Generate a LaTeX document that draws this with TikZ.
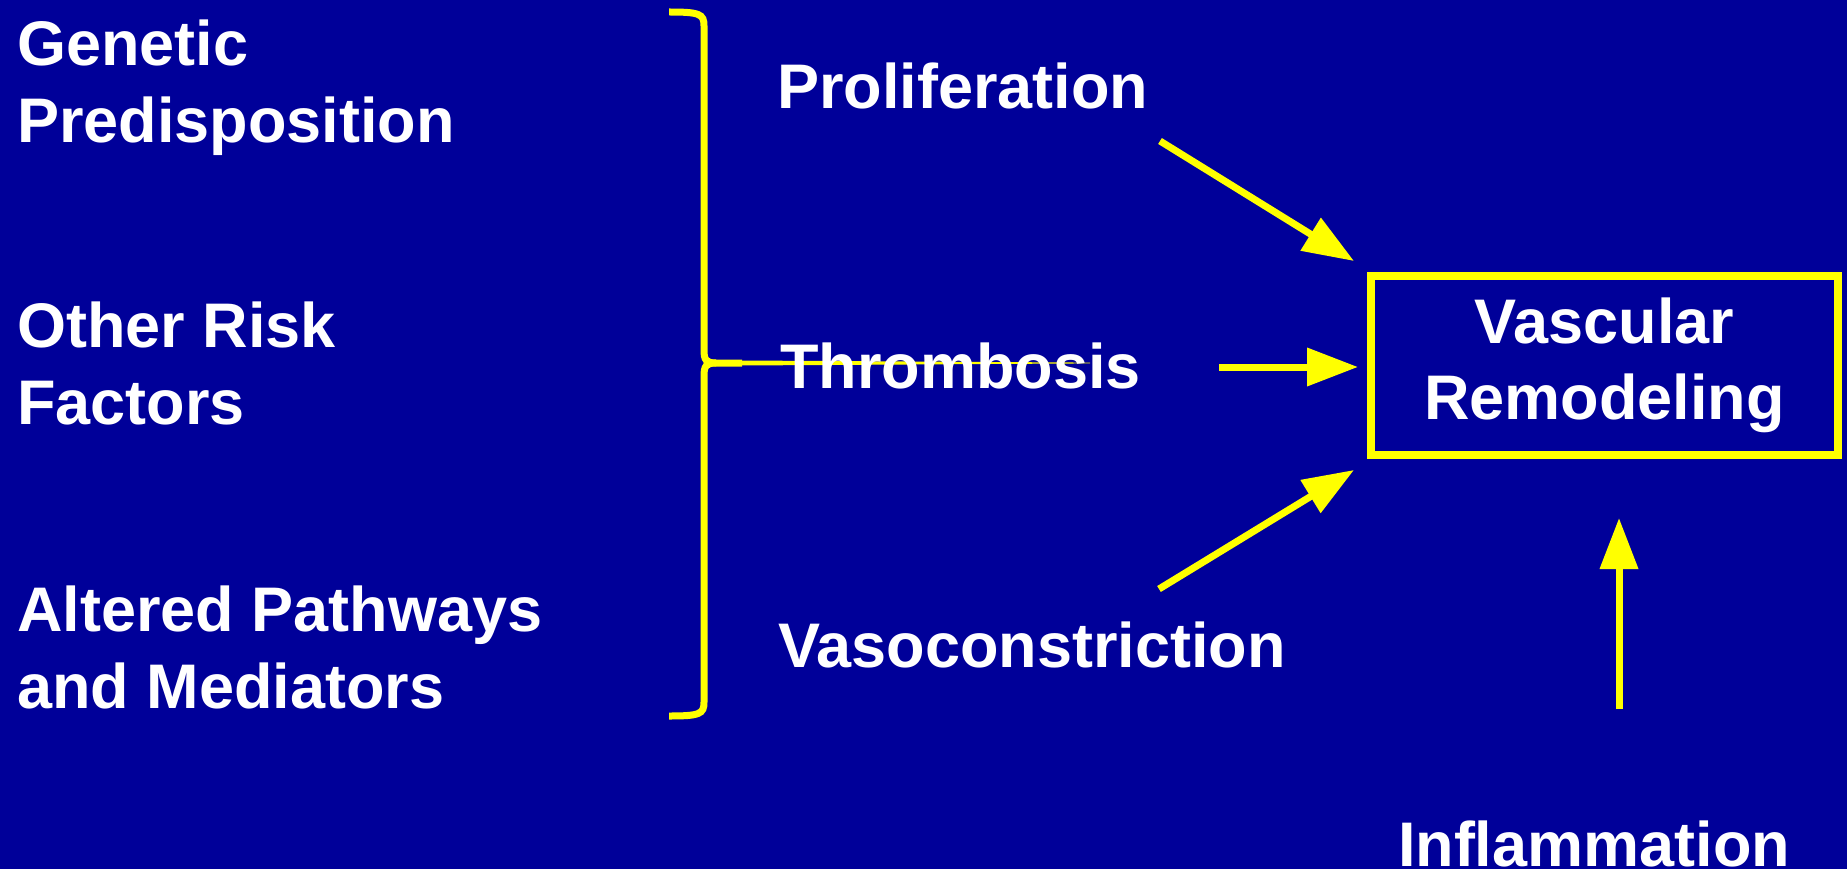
\documentclass[tikz,border=0pt]{standalone}
\usepackage{fontspec}
\setmainfont{Liberation Sans}
\usetikzlibrary{arrows.meta}
\definecolor{bgblue}{RGB}{0,0,153}
\definecolor{ylw}{RGB}{255,255,0}
\begin{document}
\begin{tikzpicture}[x=1pt,y=-1pt,
  lbl/.style={text=white,font=\fontsize{63}{77}\selectfont\bfseries,inner sep=0pt,align=left},
  arr/.style={draw=ylw,line width=7pt,-{Triangle[length=51pt,width=37pt]}},
  bracestyle/.style={draw=ylw,line width=7pt},
  boxstyle/.style={draw=ylw,line width=8pt,minimum width=467pt,minimum height=179pt,inner sep=0pt,
    text=white,font=\fontsize{63}{76}\selectfont\bfseries,align=center}]
\fill[bgblue] (0,0) rectangle (1847,869);
\useasboundingbox (0,0) rectangle (1847,869);
% brace
\draw[bracestyle] (669,12) .. controls (700,12) and (704,14) .. (704,26) -- (704,350)
  .. controls (704,360) and (706,363) .. (716,363) -- (742,363);
\draw[bracestyle] (716,363) .. controls (706,363) and (704,366) .. (704,376) -- (704,702)
  .. controls (704,714) and (700,716) .. (669,716);
\fill[ylw] (741,360.5) -- (1090,362.6) -- (1090,363.4) -- (741,365.5) -- cycle;
% texts
\node[lbl,anchor=base west] (gen) at (17,143) {Genetic\\Predisposition};
\node[lbl,anchor=base west] (risk) at (17,424) {Other Risk\\Factors};
\node[lbl,anchor=base west] (alt) at (17,708) {Altered Pathways\\and Mediators};
\node[lbl,anchor=base west] (prolif) at (777,109) {Proliferation};
\node[lbl,anchor=base west] (thromb) at (780,388) {Thrombosis};
\node[lbl,anchor=base west] (vaso) at (778,667) {Vasoconstriction};
\node[lbl,anchor=base] (infl) at (1594,866) {Inflammation};
\node[boxstyle] (box) at (1604.5,365.5) {Vascular\\Remodeling};
% arrows
\coordinate (a1s) at (1160,141); \coordinate (a1e) at (1354,261);
\coordinate (a2s) at (1219,367); \coordinate (a2e) at (1358,367);
\coordinate (a3s) at (1159,589); \coordinate (a3e) at (1354,470);
\coordinate (a4s) at (1619,709); \coordinate (a4e) at (1619,518);
\draw[arr] (a1s) -- (a1e);
\draw[arr] (a2s) -- (a2e);
\draw[arr] (a3s) -- (a3e);
\draw[arr] (a4s) -- (a4e);
\end{tikzpicture}
\end{document}
